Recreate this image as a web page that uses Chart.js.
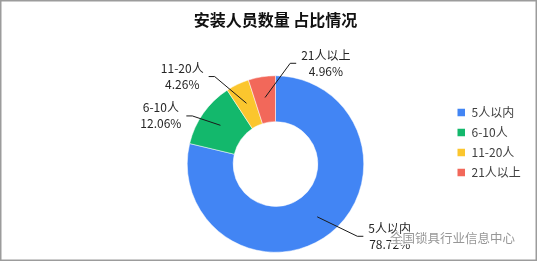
<!DOCTYPE html>
<html>
<head>
<meta charset="utf-8">
<script src="https://cdn.jsdelivr.net/npm/chart.js@4"></script>
<style>
  body { margin: 0; background: #fff; }
  canvas { display: block; }
</style>
</head>
<body>
<canvas id="chart" width="537" height="261"></canvas>
<script>
// データ
const categories = ["5人以内", "6-10人", "11-20人", "21人以上"];
const shares = [78.72, 12.06, 4.26, 4.96];
const colors = ["#4285f4", "#13b86c", "#fbc62e", "#f2685a"];

// ラベル位置 (中心からのずれ, 外半径88.5基準)
const labelOffsets = [[114.5, 72.5], [-115, -48.2], [-93.5, -87.7], [50.5, -101]];

const FONT = '"Noto Sans CJK SC", "Noto Sans", sans-serif';

// 背景と枠
const frame = {
    id: "frame",
    beforeDraw(chart) {
        const ctx = chart.ctx;
        ctx.save();
        ctx.fillStyle = "#fff";
        ctx.fillRect(0, 0, chart.width, chart.height);
        ctx.restore();
    },
    afterDraw(chart) {
        const ctx = chart.ctx;
        ctx.save();
        ctx.strokeStyle = "#9c9c9c";
        ctx.lineWidth = 1.5;
        ctx.strokeRect(0.75, 0.75, chart.width - 1.5, chart.height - 1.5);
        ctx.restore();
    }
};

// 引き出し線つきラベル
const sliceLabels = {
    id: "sliceLabels",
    afterDatasetsDraw(chart) {
        const ctx = chart.ctx;
        const meta = chart.getDatasetMeta(0);
        ctx.save();
        ctx.font = "12px " + FONT;
        ctx.fillStyle = "#262626";
        ctx.strokeStyle = "#1a1a1a";
        ctx.lineWidth = 1;
        meta.data.forEach((arc, i) => {
            const p = arc.getProps(["x", "y", "startAngle", "endAngle", "innerRadius", "outerRadius"], true);
            const k = p.outerRadius / 88.5;
            const mid = (p.startAngle + p.endAngle) / 2;
            const r = (p.innerRadius + p.outerRadius) / 2 + 2;
            const sx = p.x + Math.cos(mid) * r;
            const sy = p.y + Math.sin(mid) * r;
            const cx = p.x + labelOffsets[i][0] * k;
            const cy = p.y + labelOffsets[i][1] * k;
            const line1 = categories[i];
            const line2 = shares[i].toFixed(2) + "%";
            const halfW = Math.max(ctx.measureText(line1).width, ctx.measureText(line2).width) / 2;
            const side = cx > p.x ? 1 : -1;
            const ex = cx - side * (halfW + 5);
            const ey = cy;
            const bx = ex - side * 6;
            ctx.beginPath();
            ctx.moveTo(sx, sy);
            ctx.lineTo(bx, ey);
            ctx.lineTo(ex, ey);
            ctx.stroke();
            ctx.textAlign = "center";
            ctx.textBaseline = "middle";
            ctx.fillText(line1, cx, cy - 8);
            ctx.fillText(line2, cx, cy + 8);
        });
        ctx.restore();
    }
};

// 凡例
const sideLegend = {
    id: "sideLegend",
    afterDraw(chart) {
        const ctx = chart.ctx;
        ctx.save();
        ctx.font = "12px " + FONT;
        ctx.textBaseline = "middle";
        ctx.textAlign = "left";
        categories.forEach((name, i) => {
            const y = 112.5 + i * 20;
            ctx.fillStyle = colors[i];
            ctx.fillRect(457.5, y - 3.75, 7.5, 7.5);
            ctx.fillStyle = "#404040";
            ctx.fillText(name, 471.5, y);
        });
        ctx.restore();
    }
};

// 透かし
const watermark = {
    id: "watermark",
    afterDraw(chart) {
        const ctx = chart.ctx;
        ctx.save();
        ctx.font = "12.5px " + FONT;
        ctx.textBaseline = "middle";
        ctx.textAlign = "left";
        ctx.lineWidth = 2.5;
        ctx.strokeStyle = "rgba(255,255,255,0.85)";
        ctx.strokeText("全国锁具行业信息中心", 390, 238.5);
        ctx.fillStyle = "rgba(140,140,140,0.9)";
        ctx.fillText("全国锁具行业信息中心", 390, 238.5);
        ctx.restore();
    }
};

new Chart(document.getElementById("chart"), {
    type: "doughnut",
    data: {
        labels: categories,
        datasets: [{
            data: shares,
            backgroundColor: colors,
            borderColor: "#ffffff",
            borderWidth: 0.5
        }]
    },
    options: {
        responsive: false,
        devicePixelRatio: 1,
        animation: false,
        cutout: "48%",
        layout: { padding: { left: 187, right: 173, top: 0, bottom: 8.5 } },
        plugins: {
            legend: { display: false },
            tooltip: { enabled: false },
            title: {
                display: true,
                text: "安装人员数量 占比情况",
                color: "#111",
                font: { family: FONT, size: 16, weight: "bold" },
                padding: { top: 10.4, bottom: 45.9 }
            }
        }
    },
    plugins: [frame, sliceLabels, sideLegend, watermark]
});
</script>
</body>
</html>
